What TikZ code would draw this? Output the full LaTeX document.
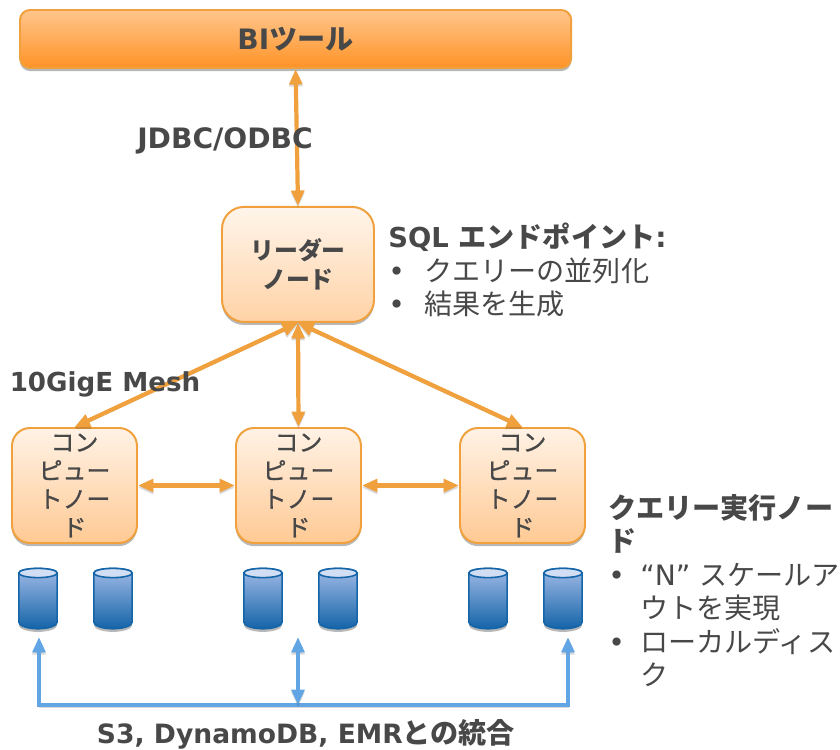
\documentclass[tikz,border=0pt]{standalone}
\usepackage{fontspec}
\setmainfont{DejaVu Sans}
\newfontfamily\cjk{Noto Sans CJK JP}
\newfontfamily\cjkb[FakeBold=1]{Noto Sans CJK JP}
\usepackage{xcolor}
\usetikzlibrary{shapes,positioning,shadows,arrows.meta}
\definecolor{txt}{HTML}{484848}
\definecolor{org}{HTML}{F0A03C}
\definecolor{sky}{HTML}{62A5E4}
\definecolor{dsk}{HTML}{1464A8}
\definecolor{dsktop}{HTML}{A0BAE6}
\definecolor{dskcap}{HTML}{D2DEF3}
\newcommand{\bul}[1]{\makebox[#1][l]{\textbullet}}
\tikzset{
  soft/.style={drop shadow={shadow xshift=0pt,shadow yshift=-2.2pt,opacity=.28,fill=black}},
  bar/.style={rectangle,draw=org,line width=1.4pt,rounded corners=.25cm,minimum width=13.78cm,minimum height=1.45cm,top color=orange!45!white,bottom color=orange!85!white,soft,text=txt,font=\fontsize{20}{24}\selectfont\bfseries},
  lead/.style={rectangle,draw=org,line width=1.4pt,rounded corners=.55cm,minimum width=3.8cm,minimum height=2.875cm,top color=orange!8!white,bottom color=orange!35!white,soft,text=txt,align=center,inner sep=0pt,font=\fontsize{17}{21}\selectfont\bfseries\cjk},
  comp/.style={rectangle,draw=org,line width=1.4pt,rounded corners=.45cm,minimum width=3.125cm,minimum height=2.875cm,top color=orange!10!white,bottom color=orange!42!white,soft,text=txt,align=center,inner sep=0pt,font=\fontsize{17}{20.2}\selectfont\cjkb},
  disk/.style={draw=dsk,line width=1.1pt,top color=dsktop,bottom color=dsk,soft},
  diskcap/.style={draw=dsk,line width=1.1pt,fill=dskcap},
  link/.style={draw=org,line width=3pt,<->,preaction={draw=black,opacity=.15,transform canvas={yshift=-1.5pt}}},
  bus/.style={draw=sky,line width=2.8pt,preaction={draw=black,opacity=.15,transform canvas={yshift=-1.5pt}}},
  head/.style={text=txt,font=\fontsize{20}{24}\selectfont\bfseries},
  note/.style={text=txt,align=left,anchor=north west,inner sep=0pt,font=\fontsize{20}{23.8}\selectfont}
}
\begin{document}
\begin{tikzpicture}[>={Triangle[length=11pt,width=9pt]}]
        \useasboundingbox (0,0) rectangle (21,18.75);

        \node[bar] (bi) at (7.39,17.775) {BI{\cjk ツール}};
        \node[lead] (leader) at (7.45,12.14) {リーダー\\ノード};
        \node[comp] (c1) at (1.8625,6.6125) {コン\\ピュー\\トノー\\ド};
        \node[comp] (c2) at (7.4625,6.6125) {コン\\ピュー\\トノー\\ド};
        \node[comp] (c3) at (13.0625,6.6125) {コン\\ピュー\\トノー\\ド};

        \foreach \x in {0.95,2.825,6.575,8.45,12.2,14.075}{
            \draw[disk] (\x-.48,4.425) -- (\x-.48,3.2) arc (180:360:.48 and .17) -- (\x+.48,4.425) arc (0:180:.48 and .115) -- cycle;
            \draw[diskcap] (\x,4.425) ellipse (.48 and .115);
        }

        \draw [link] (bi.south) to (leader.north);
        \draw [link] (leader.south) to (c1.north);
        \draw [link] (leader.south) to (c2.north);
        \draw [link] (leader.south) to (c3.north);
        \draw [link] (c1.east) to (c2.west);
        \draw [link] (c2.east) to (c3.west);

        \coordinate (b1) at (0.975,2.825);
        \coordinate (b2) at (7.45,2.825);
        \coordinate (b3) at (14.2,2.825);
        \coordinate (bm) at (7.45,1.125);
        \draw [bus,->] (bm) -| (b1);
        \draw [bus,->] (bm) -| (b3);
        \draw [bus,<->] (bm) to (b2);

        \node[head] (jdbc) at (5.625,15.225) {JDBC/ODBC};
        \node[head,font=\fontsize{18.6}{24}\selectfont\bfseries] (mesh) at (2.625,9.15) {10GigE Mesh};
        \node[head] (ext) at (7.65,0.38) {{\fontsize{18.9}{24}\selectfont S3, DynamoDB, EMR}{\cjk との統合}};

        \node[note] (sql) at (9.7,13.175) {\textbf{{\fontsize{19.5}{23.8}\selectfont SQL} {\cjk エンドポイント}:}\\\bul{.9cm}{\cjk クエリーの並列化}\\\bul{.9cm}{\cjk 結果を生成}};
        \node[note] (run) at (15.2,6.4) {\textbf{\cjk クエリー実行ノー}\\\textbf{\cjk ド}\\\bul{.8cm}“N” {\cjk スケールア}\\\hspace{.8cm}{\cjk ウトを実現}\\\bul{.8cm}{\cjk ローカルディス}\\\hspace{.8cm}{\cjk ク}};
\end{tikzpicture}
\end{document}
